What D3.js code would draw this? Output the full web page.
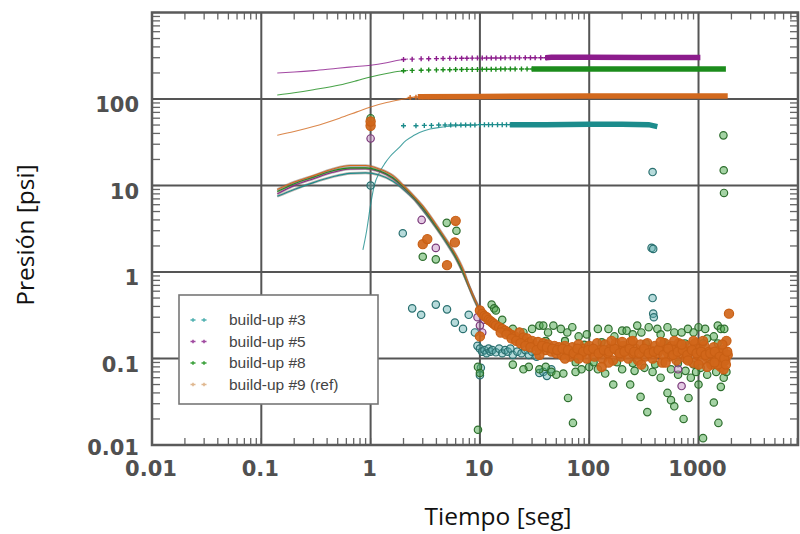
<!DOCTYPE html>
<html><head><meta charset="utf-8">
<script src="https://cdn.jsdelivr.net/npm/d3@7"></script>
<style>body{margin:0;background:#fff}svg{display:block}</style>
</head><body>
<script>
// ---------- DATA ----------
const xTickVals = [0.01, 0.1, 1, 10, 100, 1000];
const xTickLabels = ["0.01", "0.1", "1", "10", "100", "1000"];
const yTickVals = [0.01, 0.1, 1, 10, 100];
const yTickLabels = ["0.01", "0.1", "1", "10", "100"];
const seriesNames = ["build-up #3", "build-up #5", "build-up #8", "build-up #9 (ref)"];

// pressure model curves
const pLine3 = [[0.85,1.8],[0.92,3],[1.0,6],[1.08,10],[1.2,14],[1.35,18],[1.5,21.5],[1.8,27],[2.1,33],[2.5,38],[2.8,41],[3.5,45],[4.3,47],[6,49],[8,50]];
const pLine5 = [[0.14,200],[0.2,205],[0.3,213],[0.5,227],[0.7,236],[1,246],[1.4,263],[1.85,282],[2.2,290]];
const pLine8 = [[0.14,111],[0.2,118],[0.3,128],[0.52,145],[0.75,163],[1,180],[1.4,197],[1.85,209],[2.2,214]];
const pLine9 = [[0.14,38],[0.2,42],[0.3,48],[0.52,60],[0.75,71],[1,81],[1.4,91],[1.85,98],[2.3,103],[2.7,106]];

// pressure measured markers (sparse part)
const pPts3 = [[2,49],[2.6,49],[3.1,49.5],[3.6,49.5],[4.2,50],[4.8,50],[5.4,50],[6,50],[6.7,50],[7.4,50],[8.2,50],[9,50],[10,50.5],[11,50.5],[12,50.5],[13,50.5],[14.5,50.5],[16,50.5],[17.5,50.5],[19,50.5]];
const pPts5 = [[2,286],[2.4,289],[2.9,291],[3.4,292],[4,293],[4.6,294],[5.3,295],[6,295],[6.8,296],[7.6,296],[8.5,297],[9.5,297],[10.5,297],[11.5,298],[12.7,298],[14,298],[15.5,298],[17,299],[19,299],[21,299],[23,299],[26,300],[29,300],[32,300],[36,300],[40,300]];
const pPts8 = [[2,212],[2.4,214],[2.9,215],[3.4,216],[4,217],[4.6,218],[5.3,218],[6,219],[6.8,219],[7.6,220],[8.5,220],[9.5,220],[10.5,221],[11.5,221],[12.7,221],[14,221],[15.5,222],[17,222],[19,222],[21,222],[24,222],[27,222],[30,222]];
const pPts9 = [[2.3,104],[2.6,105],[3,106],[3.4,106],[3.8,107],[4.3,107],[4.8,107]];
// pressure measured markers (dense band)
const pBand3 = [[19,50.5],[40,50.5],[100,51],[200,51],[350,50.5],[420,48]];
const pBand5 = [[40,300],[45,303],[100,303],[300,302],[700,302],[1040,302]];
const pBand8 = [[30,222],[100,222],[500,222],[1780,222]];
const pBand9 = [[2.7,106],[10,107],[100,108],[1850,108]];

// derivative model curves
const dLine3 = [[0.14,7.5],[0.2,9],[0.3,10.8],[0.45,12.6],[0.65,13.8],[0.9,14],[1.2,13.2],[1.6,11.2],[2,9],[2.5,6.9],[3,5.2],[4,3.2],[5,2.1],[6,1.45],[7,0.98],[8,0.66],[9,0.46],[10,0.35],[12,0.26]];
const dLine5 = [[0.14,8],[0.2,10],[0.3,12],[0.45,14.2],[0.65,15.5],[0.9,15.6],[1.2,14.5],[1.6,12],[2,9.4],[2.5,7.1],[3,5.4],[4,3.3],[5,2.2],[6,1.5],[7,1.0],[8,0.67],[9,0.48],[10,0.37],[12,0.29]];
const dLine8 = [[0.14,8.5],[0.2,10.5],[0.3,12.5],[0.45,14.8],[0.65,16],[0.9,16],[1.2,14.8],[1.6,12.3],[2,9.6],[2.5,7.2],[3,5.5],[4,3.3],[5,2.2],[6,1.5],[7,1.0],[8,0.66],[9,0.47],[10,0.36],[12,0.28],[15,0.22]];
const dLine9 = [[0.14,9],[0.2,11],[0.3,13],[0.45,15.5],[0.65,17],[0.9,17],[1.2,15.5],[1.6,13],[2,10],[2.5,7.5],[3,5.8],[4,3.5],[5,2.3],[6,1.6],[7,1.08],[8,0.68],[9,0.48],[10,0.37],[12,0.3],[15,0.23]];

// derivative measured points
const dPts3 = [[1,10],[1.97,2.8],[2.4,0.38],[2.9,0.32],[3.95,0.42],[5,0.37],[5.9,0.26],[7,0.22],[7.9,0.32],[9,0.2],[9.5,0.14],
 [10,0.13],[10.5,0.12],[11,0.125],[11.5,0.115],[12,0.13],[12.5,0.12],[13,0.125],[14,0.118],[15,0.13],[16,0.115],[17,0.125],[18,0.12],[19,0.13],[20,0.11],[22,0.12],[24,0.115],[26,0.125],[28,0.11],[30,0.12],[33,0.105],[35,0.068],[38,0.07],[41,0.063],[45,0.075],[10,0.064],[10.2,0.078],
 [380,14.3],[372,1.9],[385,1.85],[380,0.5],[385,0.33],[390,0.3]];
const dPts5 = [[1,35],[2.93,4],[3.95,1.9],[9.5,0.3],[10,0.24],[11,0.28],[10.5,0.2],[700,0.048],[1650,0.09],[650,0.075]];
const dPts8 = [[1,60],[4.97,3.7],[6.1,3.0],[3,1.5],[3.95,1.4],[12.8,0.42],[13.5,0.38],
 [14,0.36],[16,0.28],[20,0.22],[25,0.2],[30,0.22],[35,0.24],[38,0.24],[42,0.2],[47,0.24],[55,0.22],[63,0.2],[70,0.23],[80,0.18],[95,0.19],[120,0.22],[150,0.22],[170,0.18],[200,0.21],[220,0.21],[250,0.19],[275,0.24],[300,0.2],[350,0.23],[420,0.22],[450,0.19],[520,0.23],[600,0.2],[700,0.2],[800,0.22],[900,0.2],[1000,0.23],[1150,0.22],[1380,0.18],[1500,0.24],[1600,0.22],[1200,0.17],[1720,0.22],
 [9.6,0.08],[10,0.068],[9.6,0.015],[20,0.085],[28,0.08],[35,0.075],[45,0.07],[50,0.065],[58,0.067],[64,0.035],[71,0.018],[85,0.075],[100,0.08],[140,0.067],[166,0.05],[200,0.075],[237,0.05],[295,0.036],[340,0.024],[380,0.07],[450,0.06],[520,0.04],[560,0.033],[600,0.028],[650,0.065],[730,0.02],[810,0.035],[850,0.06],[950,0.07],[1000,0.05],[1100,0.012],[1200,0.065],[1380,0.031],[1520,0.018],[1600,0.047],[1700,0.06],[1800,0.07],
 [25,0.075],[40,0.08],[75,0.07],[120,0.075],[260,0.072],[320,0.078],[560,0.075],[760,0.072],[1050,0.078],[1450,0.07],
 [1690,38],[1700,15],[1710,8.2]];
const dPts8Top = [[30,0.15],[40,0.16],[60,0.16],[75,0.09],[90,0.145],[110,0.09],[130,0.155],[180,0.09],[250,0.088],[330,0.15],[400,0.085],[480,0.155],[650,0.088],[750,0.15],[900,0.085],[1100,0.15],[1300,0.088],[1500,0.15],[1700,0.09]];
const dPts9 = [[1,49],[1,55],[3,2.1],[3.3,2.4],[5,1.2],[5.9,2.2],[6,3.9],[10,0.18],
 [10,0.36],[10.5,0.33],[11,0.31],[11.5,0.3],[12,0.28],[12.5,0.27],[13,0.26],[13.5,0.25],[14,0.24],[15,0.23],[16,0.22],[17,0.21],[18,0.2],[19,0.19],[20,0.185],[21,0.18],[22,0.17],[23,0.2],[24,0.16],[25,0.175],[26,0.155],[27,0.17],[28,0.15],[30,0.16],[32,0.14],[34,0.155],[36,0.13],[38,0.15],[40,0.125],[42,0.145],[45,0.12],[48,0.14],[50,0.115],[53,0.135],[56,0.11],[60,0.14],[63,0.12],[67,0.105],[70,0.135],[75,0.12],[80,0.145],[85,0.11],[90,0.13],[95,0.1],[100,0.14],[106,0.12],[112,0.105],[118,0.15],[125,0.125],[132,0.1],[140,0.145],[148,0.115],[156,0.13],[165,0.095],[175,0.15],[185,0.12],[195,0.105],[205,0.14],[215,0.125],[228,0.1],[240,0.155],[252,0.115],[265,0.13],[280,0.095],[295,0.145],[310,0.12],[325,0.105],[340,0.15],[360,0.125],[380,0.1],[400,0.14],[420,0.115],[440,0.13],[465,0.09],[490,0.15],[515,0.12],[540,0.105],[570,0.14],[600,0.125],[630,0.095],[660,0.15],[700,0.115],[735,0.13],[770,0.1],[810,0.14],[850,0.12],[890,0.09],[935,0.15],[980,0.11],[1030,0.13],[1080,0.095],[1130,0.14],[1190,0.105],[1250,0.12],[1310,0.085],[1380,0.135],[1450,0.1],[1520,0.115],[1600,0.08],[1680,0.125],[1760,0.095],[1850,0.11],[1800,0.16],[1900,0.33],[1700,0.075],[1500,0.085],[1200,0.08],[900,0.16],[300,0.085],[150,0.09],[60,0.1],[35,0.11],[600,0.16],[1000,0.085]];
const dPts9b = [[15.5,0.2],[17.5,0.19],[19.5,0.17],[21.5,0.16],[23.5,0.15],[26,0.14],[29,0.135],[33,0.125],[37,0.14],[41,0.135],[46,0.13],[51,0.125],[57,0.13],[64,0.125],[72,0.115],[78,0.13],[88,0.12],[98,0.125],[109,0.13],[122,0.115],[136,0.125],[152,0.12],[170,0.13],[190,0.115],[210,0.12],[234,0.13],[258,0.12],[287,0.115],[318,0.13],[350,0.115],[390,0.12],[430,0.125],[478,0.11],[528,0.13],[585,0.11],[645,0.12],[718,0.125],[790,0.11],[870,0.125],[960,0.115],[1055,0.12],[1160,0.11],[1280,0.115],[1410,0.12],[1560,0.105],[1720,0.1],[1830,0.12],[200,0.155],[500,0.09],[800,0.095],[1100,0.16],[1400,0.09],[1650,0.145],[130,0.08],[250,0.16],[700,0.145],[450,0.155],[160,0.16],[80,0.1],[1780,0.085]];

// ---------- CHART ----------
const W = 800, H = 534;
const svg = d3.select("body").append("svg").attr("width", W).attr("height", H);
const x = d3.scaleLog().domain([0.01, 8130]).range([152, 798]);
const y = d3.scaleLog().domain([0.01, 1000]).range([445, 12.5]);
const [x0, x1] = x.range(), [y0, y1] = y.range();

const cols = { c3: "#1c8c8c", c5: "#8c1c8c", c8: "#1c8c1c", c9: "#d2691e" };
const ptStroke = {c3: "#2a7070", c5: "#7a3a7a", c8: "#2f6f2f", c9: "#c85f14"};
const ptFill = {c3: "#5fb0b0", c5: "#c088c0", c8: "#4aa84a", c9: "#d0661a"};

// minor ticks
const tickG = svg.append("g").attr("stroke", "#666").attr("stroke-width", 1.3);
x.ticks().forEach(v => {
  const px = x(v);
  tickG.append("line").attr("x1", px).attr("x2", px).attr("y1", y1).attr("y2", y1 + 7);
  tickG.append("line").attr("x1", px).attr("x2", px).attr("y1", y0).attr("y2", y0 - 7);
});
y.ticks().forEach(v => {
  const py = y(v);
  tickG.append("line").attr("x1", x0).attr("x2", x0 + 8).attr("y1", py).attr("y2", py);
  tickG.append("line").attr("x1", x1).attr("x2", x1 - 8).attr("y1", py).attr("y2", py);
});

// grid lines
const grid = svg.append("g").attr("stroke", "#555").attr("stroke-width", 2);
xTickVals.slice(1).forEach(v => grid.append("line").attr("x1", x(v)).attr("x2", x(v)).attr("y1", y1).attr("y2", y0));
yTickVals.slice(1).forEach(v => grid.append("line").attr("x1", x0).attr("x2", x1).attr("y1", y(v)).attr("y2", y(v)));

// frame
svg.append("rect").attr("x", x0).attr("y", y1).attr("width", x1 - x0).attr("height", y0 - y1)
  .attr("fill", "none").attr("stroke", "#5a5a5a").attr("stroke-width", 2.5);

svg.append("clipPath").attr("id", "clip").append("rect")
  .attr("x", x0).attr("y", y1).attr("width", x1 - x0).attr("height", y0 - y1);
const plot = svg.append("g").attr("clip-path", "url(#clip)");

const line = d3.line().x(d => x(d[0])).y(d => y(d[1])).curve(d3.curveMonotoneX);
const lineL = d3.line().x(d => x(d[0])).y(d => y(d[1]));

// pressure model lines
[[pLine3, "c3"], [pLine5, "c5"], [pLine8, "c8"], [pLine9, "c9"]].forEach(([d, c]) => {
  plot.append("path").attr("d", line(d)).attr("fill", "none").attr("stroke", cols[c]).attr("stroke-width", 1.1).attr("opacity", 0.8);
});
// derivative model lines
[[dLine3, "c3"], [dLine5, "c5"], [dLine8, "c8"], [dLine9, "c9"]].forEach(([d, c]) => {
  plot.append("path").attr("d", line(d)).attr("fill", "none").attr("stroke", "#7a6a60").attr("stroke-width", 2.6).attr("opacity", 0.5);
  plot.append("path").attr("d", line(d)).attr("fill", "none").attr("stroke", cols[c]).attr("stroke-width", 1.1);
});

// pressure dense bands and markers
[[pBand3, "c3"], [pBand5, "c5"], [pBand8, "c8"], [pBand9, "c9"]].forEach(([d, c]) => {
  plot.append("path").attr("d", lineL(d)).attr("fill", "none").attr("stroke", cols[c]).attr("stroke-width", 5.5);
});
const cross = "M-2.5,0H2.5M0,-2.5V2.5";
[[pPts3, "c3"], [pPts5, "c5"], [pPts8, "c8"], [pPts9, "c9"]].forEach(([d, c]) => {
  plot.append("g").selectAll("path").data(d).join("path")
    .attr("transform", p => `translate(${x(p[0])},${y(p[1])})`)
    .attr("d", cross).attr("stroke", cols[c]).attr("stroke-width", 1.4).attr("fill", "none");
});

// derivative points
function circles(d, c, r, fillOp) {
  plot.append("g").selectAll("circle").data(d).join("circle")
    .attr("cx", p => x(p[0])).attr("cy", p => y(p[1])).attr("r", r)
    .attr("fill", ptFill[c]).attr("fill-opacity", fillOp)
    .attr("stroke", ptStroke[c]).attr("stroke-width", 1.2);
}
circles(dPts3, "c3", 3.7, 0.45);
circles(dPts8, "c8", 3.7, 0.5);
circles(dPts8Top, "c8", 3.5, 0.6);
circles(dPts5, "c5", 3.7, 0.45);
circles(dPts9, "c9", 4.6, 0.92);
circles(dPts9b, "c9", 4.6, 0.92);

// tick labels
const lab = svg.append("g").attr("font-family", "'DejaVu Sans', sans-serif").attr("font-weight", "bold")
  .attr("font-size", 21).attr("fill", "#505050");
yTickVals.forEach((v, i) => lab.append("text").attr("x", 139).attr("y", y(v) + (i === 0 ? 10 : 13)).attr("text-anchor", "end").text(yTickLabels[i]));
xTickVals.forEach((v, i) => lab.append("text").attr("x", x(v) - 1).attr("y", 476).attr("text-anchor", "middle").text(xTickLabels[i]));

// axis titles
svg.append("text").attr("transform", "translate(34,235) rotate(-90)").attr("text-anchor", "middle")
  .attr("font-family", "'Open Sans', sans-serif").attr("font-size", 24.5).attr("fill", "#111").text("Presión [psi]");
svg.append("text").attr("x", 498).attr("y", 525).attr("text-anchor", "middle")
  .attr("font-family", "'Open Sans', sans-serif").attr("font-size", 24.5).attr("fill", "#111").text("Tiempo [seg]");

// legend
const lg = svg.append("g");
lg.append("rect").attr("x", 179).attr("y", 295).attr("width", 199).attr("height", 109)
  .attr("fill", "#fff").attr("stroke", "#777").attr("stroke-width", 1.6);
const legCols = ["#4fb0b0", "#a04aa0", "#3aa03a", "#e0b890"];
seriesNames.forEach((n, i) => {
  const yy = 320 + i * 21.5;
  [193, 204].forEach(cx => lg.append("path").attr("transform", `translate(${cx},${yy})`).attr("d", "M-2.5,0H2.5M0,-1.8V1.8")
    .attr("stroke", legCols[i]).attr("stroke-width", 1.6));
  lg.append("text").attr("x", 229).attr("y", yy + 5).attr("font-family", "'Liberation Sans', Arial, sans-serif")
    .attr("font-size", 15.5).attr("fill", "#444").text(n);
});
</script>
</body></html>
